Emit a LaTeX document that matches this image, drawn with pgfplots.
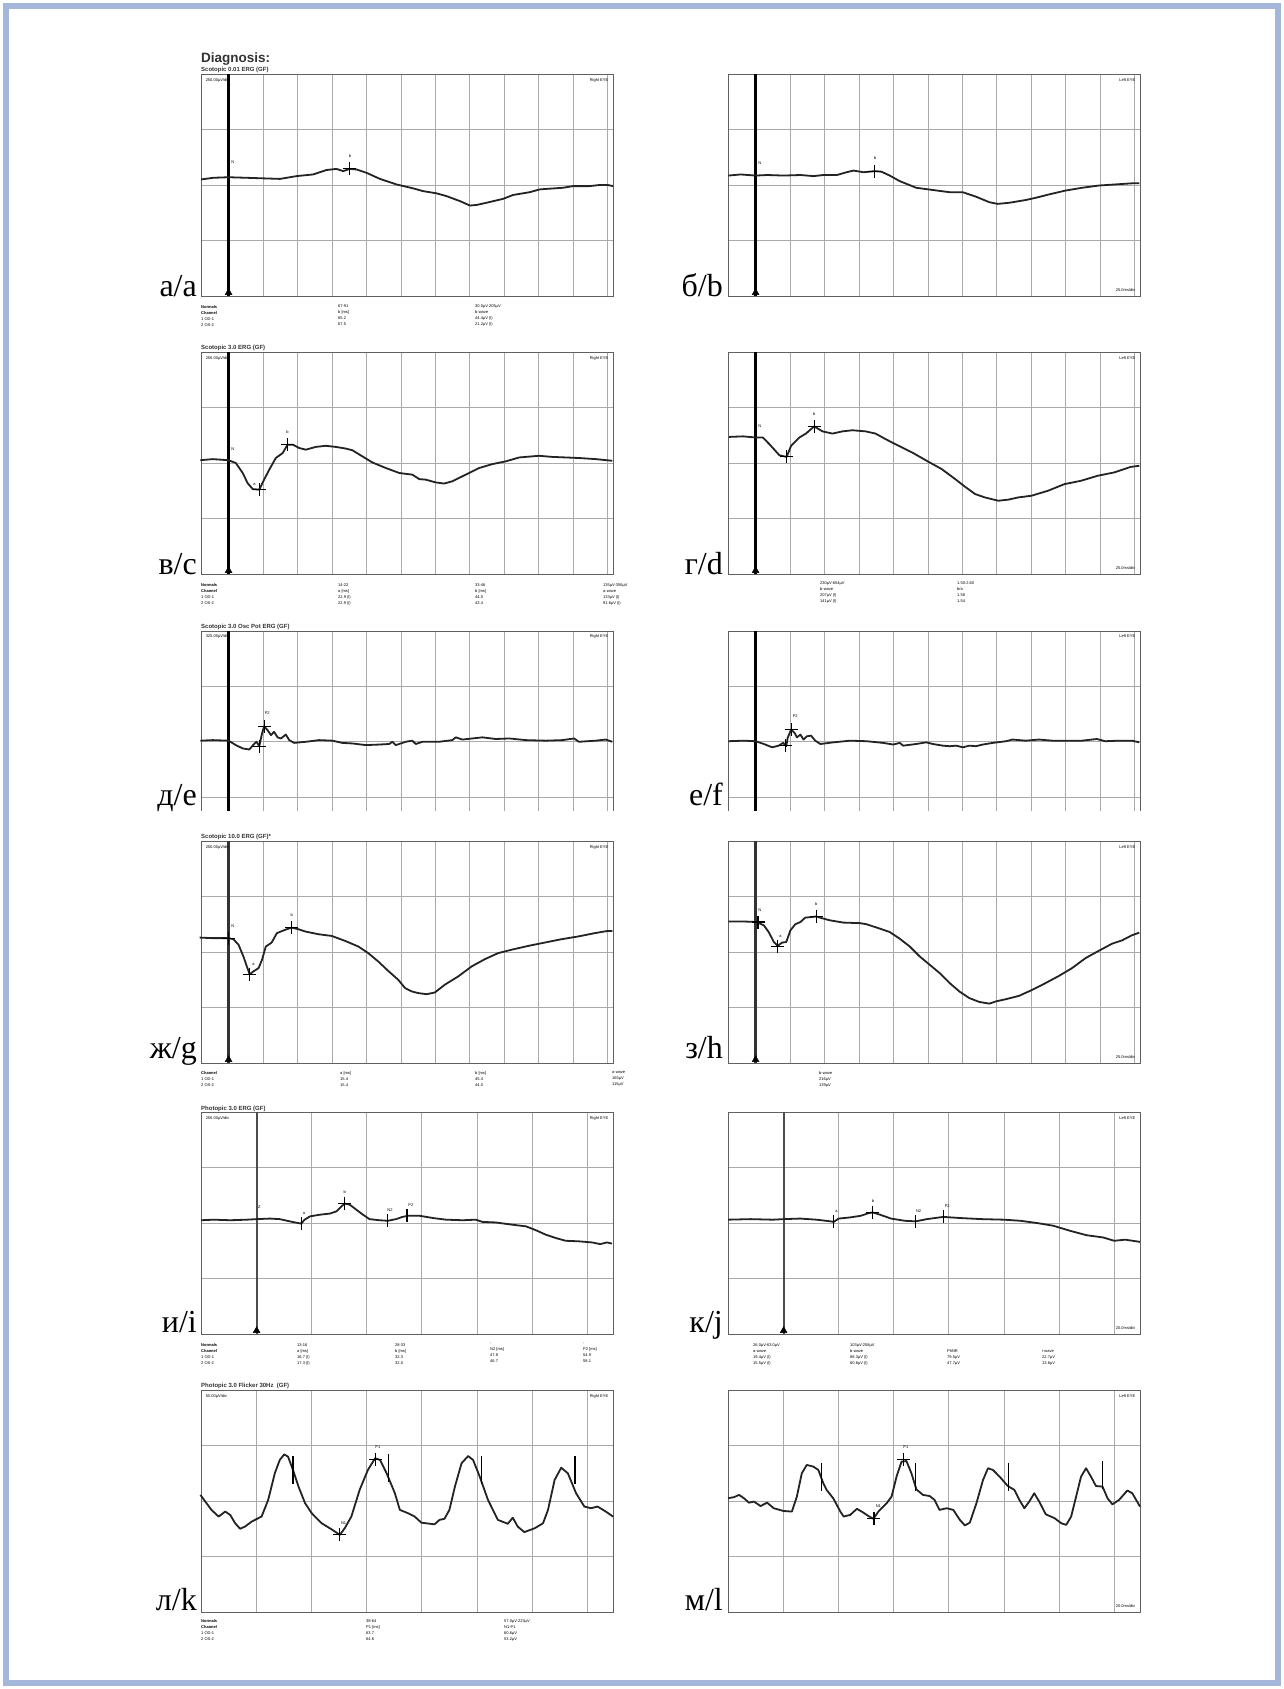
\documentclass[border=0pt]{standalone}
\usepackage{pgfplots}
\pgfplotsset{compat=1.18}
\usepackage{fontspec}
\setmainfont{Liberation Sans}
\newfontfamily\serif{Liberation Serif}
\definecolor{frameblue}{RGB}{164,183,219}
\definecolor{gridgray}{RGB}{170,170,170}
\definecolor{tracec}{RGB}{35,35,35}
\newcommand{\tinyf}{\fontsize{4}{6}\selectfont}
\newcommand{\ttl}{\fontsize{6}{7}\selectfont\bfseries}
\newcommand{\biglab}{\serif\fontsize{32}{34}\selectfont}
\pgfplotsset{
 erg/.style={scale only axis, anchor=north west, width=412pt, height=222pt,
   ymin=0, ymax=4, ytick={1,2,3}, xticklabels={}, yticklabels={}, tick style={draw=none},
   grid=major, grid style={gridgray, line width=0.9pt}, axis line style={gray!75!black, line width=1pt},
   clip=false},
 ergA/.style={erg, xmin=-0.8, xmax=11.15, xtick={0,...,11}},
 ergB/.style={erg, xmin=-1.01, xmax=6.47, xtick={0,...,6}},
 tr/.style={tracec, line width=1.8pt, line join=round, no marks},
 cross/.style={only marks, mark=+, mark size=6.5pt, mark options={line width=1.1pt, black}},
 bar/.style={only marks, mark=|, mark size=6.5pt, mark options={line width=1.1pt, black}},
 stim/.style={black, line width=2.2pt, no marks},
}
\begin{document}
\begin{tikzpicture}[x=1pt,y=1pt]
\fill[white] (0pt,0pt) rectangle (1284pt,-1689pt);
\draw[frameblue, line width=6pt] (6pt,-6pt) rectangle (1278pt,-1683pt);

% ---------------- titles -----------------
\node[anchor=base west, font=\fontsize{13.5}{14}\selectfont\bfseries, text=black!80, inner sep=0] at (201pt,-62pt) {Diagnosis:};
\node[anchor=base west, font=\ttl, text=black!80, inner sep=0] at (201pt,-71pt) {Scotopic 0.01 ERG (GF)};
\node[anchor=base west, font=\ttl, text=black!80, inner sep=0] at (201pt,-349pt) {Scotopic 3.0 ERG (GF)};
\node[anchor=base west, font=\ttl, text=black!80, inner sep=0] at (201pt,-628pt) {Scotopic 3.0 Osc Pot ERG (GF)};
\node[anchor=base west, font=\ttl, text=black!80, inner sep=0] at (201pt,-838pt) {Scotopic 10.0 ERG (GF)*};
\node[anchor=base west, font=\ttl, text=black!80, inner sep=0] at (201pt,-1110pt) {Photopic 3.0 ERG (GF)};
\node[anchor=base west, font=\ttl, text=black!80, inner sep=0] at (201pt,-1387pt) {Photopic 3.0 Flicker 30Hz\ \ (GF)};

% ---------------- row 1 -----------------
\begin{axis}[ergA, at={(201pt,-74pt)}]
\addplot[stim] coordinates {(0,0) (0,4)};
\addplot[only marks, mark=triangle*, mark size=4pt] coordinates {(0,0.06)};
\addplot[tr] coordinates {(-0.80,2.10)(-0.44,2.13)(0,2.14)(0.52,2.13)(1.00,2.12)(1.49,2.11)(1.97,2.16)(2.45,2.19)(2.84,2.27)(3.13,2.29)(3.32,2.25)(3.52,2.29)(3.71,2.28)(4.00,2.22)(4.39,2.11)(4.87,2.01)(5.35,1.94)(5.64,1.89)(6.03,1.85)(6.32,1.80)(6.71,1.71)(7.00,1.63)(7.19,1.64)(7.48,1.68)(7.96,1.75)(8.25,1.82)(8.73,1.87)(9.02,1.92)(9.22,1.93)(9.70,1.95)(9.99,1.98)(10.47,1.98)(10.76,2.00)(11.00,2.00)(11.15,1.98)};
\addplot[cross] coordinates {(3.52,2.29)};
\node[font=\tinyf] at (axis cs:3.52,2.52) {b};
\node[font=\tinyf] at (axis cs:0.12,2.42) {N};
\node[font=\tinyf, anchor=north west] at (rel axis cs:0.003,0.997) {250.00µV/div};
\node[font=\tinyf, anchor=north east] at (rel axis cs:0.997,0.997) {Right EYE};
\end{axis}
\begin{axis}[ergA, at={(728pt,-74pt)}]
\addplot[stim] coordinates {(0,0) (0,4)};
\addplot[only marks, mark=triangle*, mark size=4pt] coordinates {(0,0.06)};
\addplot[tr] coordinates {(-0.79,2.17)(-0.43,2.19)(0,2.17)(0.34,2.18)(0.82,2.17)(1.30,2.18)(1.68,2.16)(1.97,2.18)(2.36,2.18)(2.64,2.23)(2.84,2.26)(3.13,2.23)(3.46,2.25)(3.65,2.24)(3.89,2.17)(4.18,2.07)(4.66,1.95)(5.14,1.91)(5.63,1.87)(6.01,1.87)(6.39,1.79)(6.78,1.69)(7.02,1.66)(7.36,1.68)(7.84,1.73)(8.13,1.77)(8.51,1.83)(8.99,1.90)(9.47,1.95)(9.95,1.99)(10.43,2.01)(10.91,2.03)(11.13,2.03)};
\addplot[cross] coordinates {(3.46,2.25)};
\node[font=\tinyf] at (axis cs:3.46,2.48) {b};
\node[font=\tinyf] at (axis cs:0.12,2.40) {N};
\node[font=\tinyf, anchor=north east] at (rel axis cs:0.997,0.997) {Left EYE};
\node[font=\tinyf, anchor=south east] at (rel axis cs:0.997,0.005) {25.0ms/div};
\end{axis}
\node[anchor=north west, font=\tinyf, align=left, inner sep=0] at (201pt,-305pt) {\textbf{Normals}\\\textbf{Channel}\\1 OD-1\\2 OS-2};
\node[anchor=north west, font=\tinyf, align=left, inner sep=0] at (338pt,-305pt) {67-91\\b [ms]\\65.2\\67.5};
\node[anchor=north west, font=\tinyf, align=left, inner sep=0] at (475pt,-305pt) {30.0µV-205µV\\b-wave\\44.4µV (l)\\21.2µV (l)};

% ---------------- row 2 -----------------
\begin{axis}[ergA, at={(201pt,-352pt)}]
\addplot[stim] coordinates {(0,0) (0,4)};
\addplot[only marks, mark=triangle*, mark size=4pt] coordinates {(0,0.06)};
\addplot[tr] coordinates {(-0.82,2.05)(-0.46,2.07)(0,2.05)(0.21,2.00)(0.41,1.82)(0.55,1.64)(0.70,1.53)(0.89,1.52)(1.03,1.70)(1.18,1.88)(1.37,2.09)(1.57,2.18)(1.71,2.33)(1.86,2.33)(2.05,2.27)(2.24,2.24)(2.53,2.29)(2.82,2.31)(3.11,2.29)(3.40,2.26)(3.59,2.23)(3.88,2.12)(4.17,2.01)(4.56,1.91)(4.95,1.82)(5.33,1.79)(5.53,1.71)(5.72,1.70)(6.01,1.65)(6.25,1.63)(6.49,1.67)(6.78,1.76)(7.27,1.91)(7.65,1.98)(8.04,2.03)(8.43,2.10)(9.00,2.13)(9.39,2.11)(9.78,2.10)(10.16,2.09)(10.65,2.07)(11.13,2.04)};
\addplot[cross] coordinates {(0.89,1.52)(1.71,2.33)};
\node[font=\tinyf] at (axis cs:1.71,2.56) {b};
\node[font=\tinyf] at (axis cs:0.75,1.62) {a};
\node[font=\tinyf] at (axis cs:0.12,2.25) {N};
\node[font=\tinyf, anchor=north west] at (rel axis cs:0.003,0.997) {250.00µV/div};
\node[font=\tinyf, anchor=north east] at (rel axis cs:0.997,0.997) {Right EYE};
\end{axis}
\begin{axis}[ergA, at={(728pt,-352pt)}]
\addplot[stim] coordinates {(0,0) (0,4)};
\addplot[only marks, mark=triangle*, mark size=4pt] coordinates {(0,0.06)};
\addplot[tr] coordinates {(-0.77,2.47)(-0.37,2.48)(0,2.46)(0.21,2.46)(0.40,2.34)(0.69,2.14)(0.90,2.11)(1.03,2.31)(1.27,2.46)(1.46,2.53)(1.70,2.66)(1.94,2.57)(2.23,2.53)(2.52,2.57)(2.81,2.59)(3.19,2.57)(3.48,2.53)(3.77,2.43)(4.15,2.31)(4.54,2.19)(5.02,2.02)(5.40,1.89)(5.79,1.71)(6.08,1.57)(6.37,1.44)(6.65,1.38)(7.04,1.32)(7.33,1.34)(7.62,1.38)(8.00,1.41)(8.48,1.50)(8.96,1.62)(9.44,1.68)(9.92,1.77)(10.40,1.83)(10.88,1.93)(11.13,1.95)};
\addplot[cross] coordinates {(0.90,2.11)(1.70,2.66)};
\node[font=\tinyf] at (axis cs:1.70,2.88) {b};
\node[font=\tinyf] at (axis cs:0.12,2.66) {N};
\node[font=\tinyf, anchor=north east] at (rel axis cs:0.997,0.997) {Left EYE};
\node[font=\tinyf, anchor=south east] at (rel axis cs:0.997,0.005) {25.0ms/div};
\end{axis}
\node[anchor=north west, font=\tinyf, align=left, inner sep=0] at (201pt,-583pt) {\textbf{Normals}\\\textbf{Channel}\\1 OD-1\\2 OS-2};
\node[anchor=north west, font=\tinyf, align=left, inner sep=0] at (338pt,-583pt) {14-22\\a [ms]\\22.9 (l)\\22.9 (l)};
\node[anchor=north west, font=\tinyf, align=left, inner sep=0] at (475pt,-583pt) {33-46\\b [ms]\\44.0\\43.4};
\node[anchor=north west, font=\tinyf, align=left, inner sep=0] at (603pt,-583pt) {135µV-356µV\\a-wave\\133µV (l)\\91.6µV (l)};
\node[anchor=north west, font=\tinyf, align=left, inner sep=0] at (820pt,-581pt) {230µV-654µV\\b-wave\\207µV (l)\\141µV (l)};
\node[anchor=north west, font=\tinyf, align=left, inner sep=0] at (957pt,-581pt) {1.50-2.60\\b/a\\1.58\\1.54};

% ---------------- row 3 -----------------
\begin{axis}[ergA, at={(201pt,-631pt)}, ymin=0.75, height=180pt, axis line style={draw=none}]
\draw[gray!75!black, line width=1pt] (rel axis cs:0,0) -- (rel axis cs:0,1) -- (rel axis cs:1,1) -- (rel axis cs:1,0);
\addplot[stim] coordinates {(0,0.75) (0,4)};
\addplot[tr] coordinates {(-0.82,2.02)(-0.46,2.03)(0,2.02)(0.21,1.94)(0.41,1.88)(0.60,1.86)(0.74,1.96)(0.81,2.00)(0.89,1.92)(0.97,2.15)(1.03,2.28)(1.13,2.21)(1.23,2.12)(1.32,2.18)(1.42,2.08)(1.52,2.06)(1.66,2.13)(1.76,2.03)(1.90,1.98)(2.24,2.00)(2.63,2.03)(3.01,2.02)(3.30,1.98)(3.59,1.97)(3.98,1.94)(4.37,1.95)(4.66,1.96)(4.75,2.00)(4.85,1.94)(5.14,2.00)(5.33,2.02)(5.43,1.96)(5.62,2.00)(6.11,2.00)(6.49,2.03)(6.59,2.08)(6.78,2.04)(7.07,2.06)(7.36,2.08)(7.75,2.05)(8.14,2.06)(8.62,2.03)(9.20,2.02)(9.68,2.03)(10.02,2.06)(10.16,2.00)(10.65,2.02)(10.94,2.04)(11.13,2.00)};
\addplot[cross] coordinates {(1.03,2.28)(0.89,1.92)};
\node[font=\tinyf] at (axis cs:1.12,2.52) {P2};
\node[font=\tinyf, anchor=north west] at (rel axis cs:0.003,0.997) {325.00µV/div};
\node[font=\tinyf, anchor=north east] at (rel axis cs:0.997,0.997) {Right EYE};
\end{axis}
\begin{axis}[ergA, at={(728pt,-631pt)}, ymin=0.75, height=180pt, axis line style={draw=none}]
\draw[gray!75!black, line width=1pt] (rel axis cs:0,0) -- (rel axis cs:0,1) -- (rel axis cs:1,1) -- (rel axis cs:1,0);
\addplot[stim] coordinates {(0,0.75) (0,4)};
\addplot[tr] coordinates {(-0.79,2.01)(-0.34,2.02)(0,2.01)(0.24,1.96)(0.48,1.90)(0.67,1.93)(0.80,1.98)(0.89,1.92)(0.93,2.07)(1.03,2.22)(1.13,2.16)(1.20,2.08)(1.30,2.13)(1.39,2.04)(1.49,2.10)(1.61,2.11)(1.73,2.02)(1.88,1.96)(2.26,1.99)(2.74,2.02)(3.22,2.01)(3.70,1.98)(3.99,1.95)(4.18,1.98)(4.28,1.93)(4.66,1.96)(4.95,1.99)(5.14,1.96)(5.43,1.93)(5.63,1.92)(5.82,1.93)(6.01,1.90)(6.20,1.93)(6.39,1.92)(6.59,1.95)(6.88,1.98)(7.26,2.01)(7.45,2.04)(7.84,2.02)(8.22,2.04)(8.61,2.02)(8.99,2.02)(9.47,2.02)(9.90,2.05)(10.14,2.01)(10.53,2.02)(10.91,2.02)(11.13,1.99)};
\addplot[cross] coordinates {(1.03,2.22)(0.87,1.93)};
\node[font=\tinyf] at (axis cs:1.15,2.46) {P2};
\node[font=\tinyf, anchor=north east] at (rel axis cs:0.997,0.997) {Left EYE};
\end{axis}

% ---------------- row 4 -----------------
\begin{axis}[ergA, at={(201pt,-841pt)}]
\addplot[stim, black!80] coordinates {(0,0) (0,4)};
\addplot[only marks, mark=triangle*, mark size=4pt] coordinates {(0,0.06)};
\addplot[tr] coordinates {(-0.84,2.26)(-0.48,2.25)(0,2.25)(0.14,2.23)(0.29,2.13)(0.43,1.92)(0.53,1.74)(0.61,1.60)(0.72,1.65)(0.87,1.71)(0.97,1.86)(1.08,2.10)(1.25,2.17)(1.40,2.34)(1.64,2.40)(1.83,2.44)(2.03,2.41)(2.22,2.37)(2.61,2.32)(2.99,2.29)(3.38,2.20)(3.76,2.10)(4.05,1.98)(4.34,1.83)(4.63,1.66)(4.92,1.50)(5.12,1.35)(5.31,1.29)(5.50,1.26)(5.74,1.24)(5.98,1.27)(6.27,1.41)(6.66,1.56)(7.05,1.74)(7.43,1.87)(7.82,1.98)(8.20,2.04)(8.69,2.11)(9.17,2.17)(9.65,2.23)(10.14,2.28)(10.62,2.34)(11.00,2.38)(11.13,2.38)};
\addplot[cross] coordinates {(0,2.25)(0.61,1.60)(1.83,2.44)};
\node[font=\tinyf] at (axis cs:1.83,2.67) {b};
\node[font=\tinyf] at (axis cs:0.72,1.78) {a};
\node[font=\tinyf] at (axis cs:0.12,2.47) {N};
\node[font=\tinyf, anchor=north west] at (rel axis cs:0.003,0.997) {250.00µV/div};
\node[font=\tinyf, anchor=north east] at (rel axis cs:0.997,0.997) {Right EYE};
\end{axis}
\begin{axis}[ergA, at={(728pt,-841pt)}]
\addplot[stim, black!80] coordinates {(0,0) (0,4)};
\addplot[only marks, mark=triangle*, mark size=4pt] coordinates {(0,0.06)};
\addplot[tr] coordinates {(-0.79,2.55)(-0.34,2.55)(0.03,2.54)(0.24,2.48)(0.38,2.36)(0.53,2.18)(0.64,2.11)(0.77,2.17)(0.89,2.18)(1.01,2.39)(1.15,2.50)(1.30,2.54)(1.44,2.62)(1.63,2.63)(1.76,2.64)(1.92,2.61)(2.16,2.57)(2.55,2.53)(3.03,2.52)(3.22,2.50)(3.61,2.42)(3.89,2.36)(4.18,2.24)(4.47,2.10)(4.76,1.92)(5.05,1.77)(5.34,1.62)(5.63,1.44)(5.91,1.29)(6.20,1.17)(6.49,1.10)(6.78,1.07)(6.97,1.11)(7.26,1.15)(7.64,1.21)(8.03,1.32)(8.41,1.44)(8.80,1.57)(9.18,1.71)(9.57,1.89)(9.95,2.02)(10.34,2.15)(10.63,2.21)(10.91,2.30)(11.13,2.35)};
\addplot[cross] coordinates {(0.07,2.54)(0.64,2.10)(1.76,2.64)};
\node[font=\tinyf] at (axis cs:1.76,2.87) {b};
\node[font=\tinyf] at (axis cs:0.72,2.28) {a};
\node[font=\tinyf] at (axis cs:0.12,2.76) {N};
\node[font=\tinyf, anchor=north east] at (rel axis cs:0.997,0.997) {Left EYE};
\node[font=\tinyf, anchor=south east] at (rel axis cs:0.997,0.005) {25.0ms/div};
\end{axis}
\node[anchor=north west, font=\tinyf, align=left, inner sep=0] at (201pt,-1071pt) {\textbf{Channel}\\1 OD-1\\2 OS-2};
\node[anchor=north west, font=\tinyf, align=left, inner sep=0] at (340pt,-1071pt) {a [ms]\\15.4\\15.4};
\node[anchor=north west, font=\tinyf, align=left, inner sep=0] at (475pt,-1071pt) {b [ms]\\45.4\\44.0};
\node[anchor=north west, font=\tinyf, align=left, inner sep=0] at (612pt,-1071pt) {a-wave\\165µV\\115µV};
\node[anchor=north west, font=\tinyf, align=left, inner sep=0] at (819pt,-1071pt) {b-wave\\216µV\\139µV};

% ---------------- row 5 -----------------
\begin{axis}[ergB, at={(201pt,-1112pt)}]
\addplot[stim, black!70] coordinates {(0,0) (0,4)};
\addplot[only marks, mark=triangle*, mark size=4pt] coordinates {(0,0.06)};
\addplot[tr] coordinates {(-1.01,2.05)(-0.78,2.06)(-0.48,2.05)(-0.18,2.06)(0,2.07)(0.24,2.08)(0.42,2.07)(0.60,2.03)(0.75,2.00)(0.81,1.99)(0.87,2.06)(0.97,2.12)(1.15,2.15)(1.33,2.17)(1.45,2.21)(1.54,2.30)(1.60,2.35)(1.69,2.33)(1.81,2.24)(1.93,2.15)(2.05,2.07)(2.23,2.05)(2.38,2.04)(2.53,2.07)(2.65,2.11)(2.74,2.13)(2.96,2.13)(3.20,2.09)(3.44,2.06)(3.74,2.05)(3.98,2.06)(4.10,2.02)(4.34,2.01)(4.64,1.97)(4.89,1.94)(5.07,1.87)(5.25,1.79)(5.43,1.73)(5.61,1.68)(5.85,1.67)(6.09,1.65)(6.24,1.62)(6.36,1.65)(6.45,1.63)};
\addplot[bar] coordinates {(0.81,1.99)(2.38,2.04)(2.73,2.13)};
\addplot[cross] coordinates {(1.60,2.35)};
\node[font=\tinyf] at (axis cs:0.86,2.18) {a};
\node[font=\tinyf] at (axis cs:1.60,2.55) {b};
\node[font=\tinyf] at (axis cs:2.42,2.24) {N2};
\node[font=\tinyf] at (axis cs:2.80,2.32) {P2};
\node[font=\tinyf] at (axis cs:0.05,2.28) {Z};
\node[font=\tinyf, anchor=north west] at (rel axis cs:0.003,0.997) {250.00µV/div};
\node[font=\tinyf, anchor=north east] at (rel axis cs:0.997,0.997) {Right EYE};
\end{axis}
\begin{axis}[ergB, at={(728pt,-1112pt)}]
\addplot[stim, black!70] coordinates {(0,0) (0,4)};
\addplot[only marks, mark=triangle*, mark size=4pt] coordinates {(0,0.06)};
\addplot[tr] coordinates {(-1.01,2.06)(-0.6,2.07)(-0.2,2.06)(0,2.07)(0.3,2.08)(0.6,2.06)(0.85,2.03)(0.91,2.02)(1.0,2.08)(1.2,2.1)(1.4,2.13)(1.55,2.18)(1.62,2.19)(1.75,2.15)(1.95,2.08)(2.2,2.04)(2.4,2.03)(2.6,2.07)(2.9,2.11)(3.2,2.09)(3.6,2.07)(4.0,2.06)(4.3,2.04)(4.6,2.0)(4.9,1.95)(5.2,1.86)(5.5,1.78)(5.8,1.74)(6.0,1.68)(6.2,1.7)(6.47,1.66)};
\addplot[bar] coordinates {(0.91,2.02)(2.4,2.03)(2.9,2.11)};
\addplot[cross] coordinates {(1.62,2.19)};
\node[font=\tinyf] at (axis cs:0.96,2.21) {a};
\node[font=\tinyf] at (axis cs:1.62,2.39) {b};
\node[font=\tinyf] at (axis cs:2.45,2.22) {N2};
\node[font=\tinyf] at (axis cs:2.97,2.30) {P2};
\node[font=\tinyf, anchor=north east] at (rel axis cs:0.997,0.997) {Left EYE};
\node[font=\tinyf, anchor=south east] at (rel axis cs:0.997,0.005) {20.0ms/div};
\end{axis}
\node[anchor=north west, font=\tinyf, align=left, inner sep=0] at (201pt,-1343pt) {\textbf{Normals}\\\textbf{Channel}\\1 OD-1\\2 OS-2};
\node[anchor=north west, font=\tinyf, align=left, inner sep=0] at (297pt,-1343pt) {13-16\\a [ms]\\16.7 (l)\\17.3 (l)};
\node[anchor=north west, font=\tinyf, align=left, inner sep=0] at (395pt,-1343pt) {28-33\\b [ms]\\32.3\\32.0};
\node[anchor=north west, font=\tinyf, align=left, inner sep=0] at (490pt,-1343pt) {-\\N2 [ms]\\47.8\\46.7};
\node[anchor=north west, font=\tinyf, align=left, inner sep=0] at (583pt,-1343pt) {-\\P2 [ms]\\54.9\\58.1};
\node[anchor=north west, font=\tinyf, align=left, inner sep=0] at (753pt,-1343pt) {26.0µV-63.0µV\\a-wave\\19.4µV (l)\\15.5µV (l)};
\node[anchor=north west, font=\tinyf, align=left, inner sep=0] at (850pt,-1343pt) {103µV-258µV\\b-wave\\88.3µV (l)\\60.6µV (l)};
\node[anchor=north west, font=\tinyf, align=left, inner sep=0] at (947pt,-1349pt) {PhNR\\79.5µV\\47.7µV};
\node[anchor=north west, font=\tinyf, align=left, inner sep=0] at (1042pt,-1349pt) {i-wave\\22.7µV\\13.6µV};

% ---------------- row 6 -----------------
\begin{axis}[ergB, at={(201pt,-1390pt)}]
\addplot[tr] coordinates {(-1.02,2.11)(-0.91,1.96)(-0.82,1.84)(-0.69,1.72)(-0.57,1.81)(-0.48,1.75)(-0.39,1.60)(-0.30,1.50)(-0.21,1.54)(-0.09,1.63)(0.09,1.72)(0.21,2.02)(0.33,2.50)(0.42,2.74)(0.50,2.84)(0.57,2.80)(0.66,2.56)(0.76,2.26)(0.88,1.96)(1.00,1.78)(1.18,1.60)(1.36,1.49)(1.51,1.39)(1.60,1.51)(1.72,1.72)(1.87,2.20)(2.02,2.56)(2.15,2.77)(2.24,2.74)(2.36,2.50)(2.51,2.14)(2.60,1.84)(2.75,1.78)(2.87,1.72)(2.99,1.61)(3.23,1.58)(3.32,1.66)(3.41,1.68)(3.50,1.84)(3.60,2.26)(3.72,2.68)(3.84,2.81)(3.93,2.74)(4.05,2.44)(4.20,2.02)(4.38,1.66)(4.56,1.59)(4.65,1.70)(4.74,1.54)(4.86,1.44)(5.05,1.51)(5.20,1.60)(5.29,1.84)(5.41,2.38)(5.53,2.60)(5.65,2.50)(5.80,2.14)(5.95,1.90)(6.07,1.87)(6.19,1.90)(6.34,1.81)(6.47,1.72)};
\addplot[only marks, mark=|, mark size=14pt, mark options={line width=1.1pt, black}] coordinates {(0.66,2.55)(2.39,2.59)(4.08,2.55)(5.78,2.55)};
\addplot[cross] coordinates {(2.16,2.74)(1.51,1.39)};
\node[font=\tinyf] at (axis cs:2.2,2.97) {P1};
\node[font=\tinyf] at (axis cs:1.58,1.6) {N1};
\node[font=\tinyf, anchor=north west] at (rel axis cs:0.003,0.997) {50.00µV/div};
\node[font=\tinyf, anchor=north east] at (rel axis cs:0.997,0.997) {Right EYE};
\end{axis}
\begin{axis}[ergB, at={(728pt,-1390pt)}]
\addplot[tr] coordinates {(-1.01,2.05)(-0.90,2.07)(-0.81,2.11)(-0.72,2.05)(-0.63,1.97)(-0.54,1.99)(-0.42,1.91)(-0.30,1.97)(-0.18,1.87)(0,1.82)(0.15,1.81)(0.24,2.08)(0.33,2.50)(0.42,2.65)(0.54,2.62)(0.63,2.56)(0.72,2.32)(0.78,2.20)(0.90,2.05)(1.03,1.81)(1.09,1.72)(1.21,1.75)(1.33,1.86)(1.45,1.79)(1.54,1.73)(1.63,1.68)(1.72,1.81)(1.87,1.96)(1.96,2.08)(2.05,2.44)(2.14,2.71)(2.23,2.72)(2.32,2.50)(2.41,2.21)(2.53,2.11)(2.65,2.09)(2.74,2.02)(2.83,1.84)(2.96,1.87)(3.08,1.84)(3.20,1.66)(3.29,1.56)(3.38,1.61)(3.50,1.96)(3.62,2.38)(3.71,2.59)(3.80,2.56)(3.92,2.44)(4.07,2.27)(4.19,2.20)(4.28,2.02)(4.37,1.87)(4.46,1.99)(4.55,2.14)(4.64,1.99)(4.76,1.76)(4.92,1.69)(5.04,1.60)(5.13,1.57)(5.22,1.72)(5.31,2.08)(5.40,2.44)(5.49,2.59)(5.58,2.44)(5.67,2.27)(5.79,2.26)(5.88,2.05)(5.97,1.94)(6.09,2.02)(6.24,2.19)(6.33,2.14)(6.47,1.90)};
\addplot[only marks, mark=|, mark size=14pt, mark options={line width=1.1pt, black}] coordinates {(0.68,2.44)(2.40,2.44)(4.09,2.44)(5.79,2.47)};
\addplot[cross] coordinates {(2.18,2.74)(1.64,1.68)};
\node[font=\tinyf] at (axis cs:2.22,2.97) {P1};
\node[font=\tinyf] at (axis cs:1.72,1.9) {N1};
\node[font=\tinyf, anchor=north east] at (rel axis cs:0.997,0.997) {Left EYE};
\node[font=\tinyf, anchor=south east] at (rel axis cs:0.997,0.005) {20.0ms/div};
\end{axis}
\node[anchor=north west, font=\tinyf, align=left, inner sep=0] at (201pt,-1619pt) {\textbf{Normals}\\\textbf{Channel}\\1 OD-1\\2 OS-2};
\node[anchor=north west, font=\tinyf, align=left, inner sep=0] at (366pt,-1619pt) {38-64\\P1 [ms]\\63.7\\64.6};
\node[anchor=north west, font=\tinyf, align=left, inner sep=0] at (504pt,-1619pt) {57.0µV-223µV\\N1-P1\\60.6µV\\53.2µV};

% ---------------- big labels -----------------
\node[anchor=base east, font=\biglab, inner sep=0] at (197pt,-296pt) {а/a};
\node[anchor=base east, font=\biglab, inner sep=0] at (723pt,-296pt) {б/b};
\node[anchor=base east, font=\biglab, inner sep=0] at (197pt,-574pt) {в/с};
\node[anchor=base east, font=\biglab, inner sep=0] at (723pt,-574pt) {г/d};
\node[anchor=base east, font=\biglab, inner sep=0] at (197pt,-805pt) {д/е};
\node[anchor=base east, font=\biglab, inner sep=0] at (723pt,-805pt) {е/f};
\node[anchor=base east, font=\biglab, inner sep=0] at (197pt,-1058pt) {ж/g};
\node[anchor=base east, font=\biglab, inner sep=0] at (723pt,-1058pt) {з/h};
\node[anchor=base east, font=\biglab, inner sep=0] at (197pt,-1332pt) {и/i};
\node[anchor=base east, font=\biglab, inner sep=0] at (723pt,-1332pt) {к/j};
\node[anchor=base east, font=\biglab, inner sep=0] at (197pt,-1610pt) {л/k};
\node[anchor=base east, font=\biglab, inner sep=0] at (723pt,-1610pt) {м/l};
\end{tikzpicture}
\end{document}
